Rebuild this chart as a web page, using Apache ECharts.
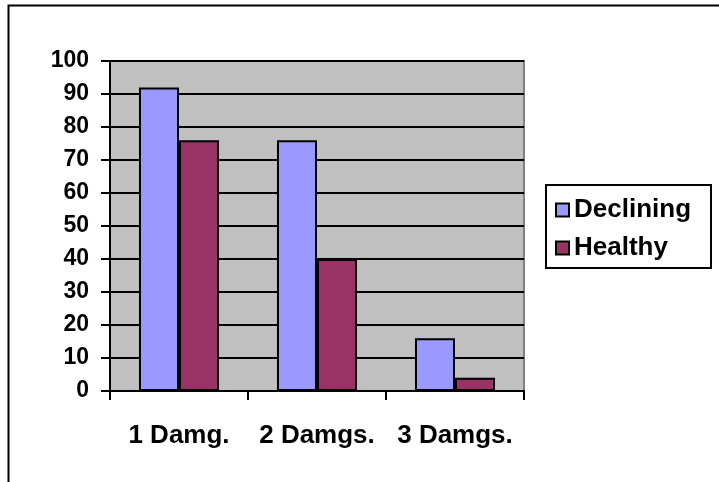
<!DOCTYPE html>
<html>
<head>
<meta charset="utf-8">
<script src="https://cdn.jsdelivr.net/npm/echarts@6/dist/echarts.min.js"></script>
<style>html,body{margin:0;padding:0;background:#fff}#c{width:719px;height:482px}</style>
</head>
<body>
<div id="c"></div>
<script>
const categories = ['1 Damg.', '2 Damgs.', '3 Damgs.'];
const declining = [92, 76, 16];
const healthy = [76, 40, 4];
const seriesNames = ['Declining', 'Healthy'];

const FONT = 'Arial, "Liberation Sans", sans-serif';
const chart = echarts.init(document.getElementById('c'), null, {renderer: 'canvas'});
chart.setOption({
  animation: false,
  backgroundColor: '#fff',
  graphic: [
    {type: 'polyline', shape: {points: [[8.5, 482], [8.5, 5.5], [719, 5.5]]},
     style: {stroke: '#000', lineWidth: 2, fill: null}, silent: true}
  ],
  grid: {
    left: 110, top: 61, width: 414, height: 330,
    show: true, backgroundColor: '#C0C0C0', borderColor: '#808080', borderWidth: 2
  },
  legend: {
    orient: 'vertical',
    left: 546, top: 185,
    padding: [12, 20, 7, 9],
    borderColor: '#000', borderWidth: 2,
    backgroundColor: '#fff',
    itemWidth: 13, itemHeight: 13, itemGap: 12,
    icon: 'rect',
    textStyle: {fontFamily: FONT, fontWeight: 'bold', fontSize: 26, color: '#000'},
    data: seriesNames
  },
  xAxis: {
    type: 'category',
    data: categories,
    axisLine: {lineStyle: {color: '#000', width: 2}},
    axisTick: {show: true, interval: 0, length: 9, inside: false, lineStyle: {color: '#000', width: 2}},
    axisLabel: {interval: 0, hideOverlap: false, fontFamily: FONT, fontWeight: 'bold', fontSize: 26, color: '#000', margin: 32},
    splitLine: {show: false}
  },
  yAxis: {
    type: 'value', min: 0, max: 100, interval: 10,
    axisLine: {show: true, lineStyle: {color: '#000', width: 2}},
    axisTick: {show: true, length: 9, lineStyle: {color: '#000', width: 2}},
    axisLabel: {fontFamily: FONT, fontWeight: 'bold', fontSize: 23, color: '#000', margin: 21},
    splitLine: {show: true, lineStyle: {color: '#000', width: 2}}
  },
  series: [
    {name: seriesNames[0], type: 'bar', data: declining, barGap: '0%', barCategoryGap: '42%',
     itemStyle: {color: '#9999FF', borderColor: '#000', borderWidth: 2}},
    {name: seriesNames[1], type: 'bar', data: healthy,
     itemStyle: {color: '#993366', borderColor: '#000', borderWidth: 2}}
  ]
});
</script>
</body>
</html>
